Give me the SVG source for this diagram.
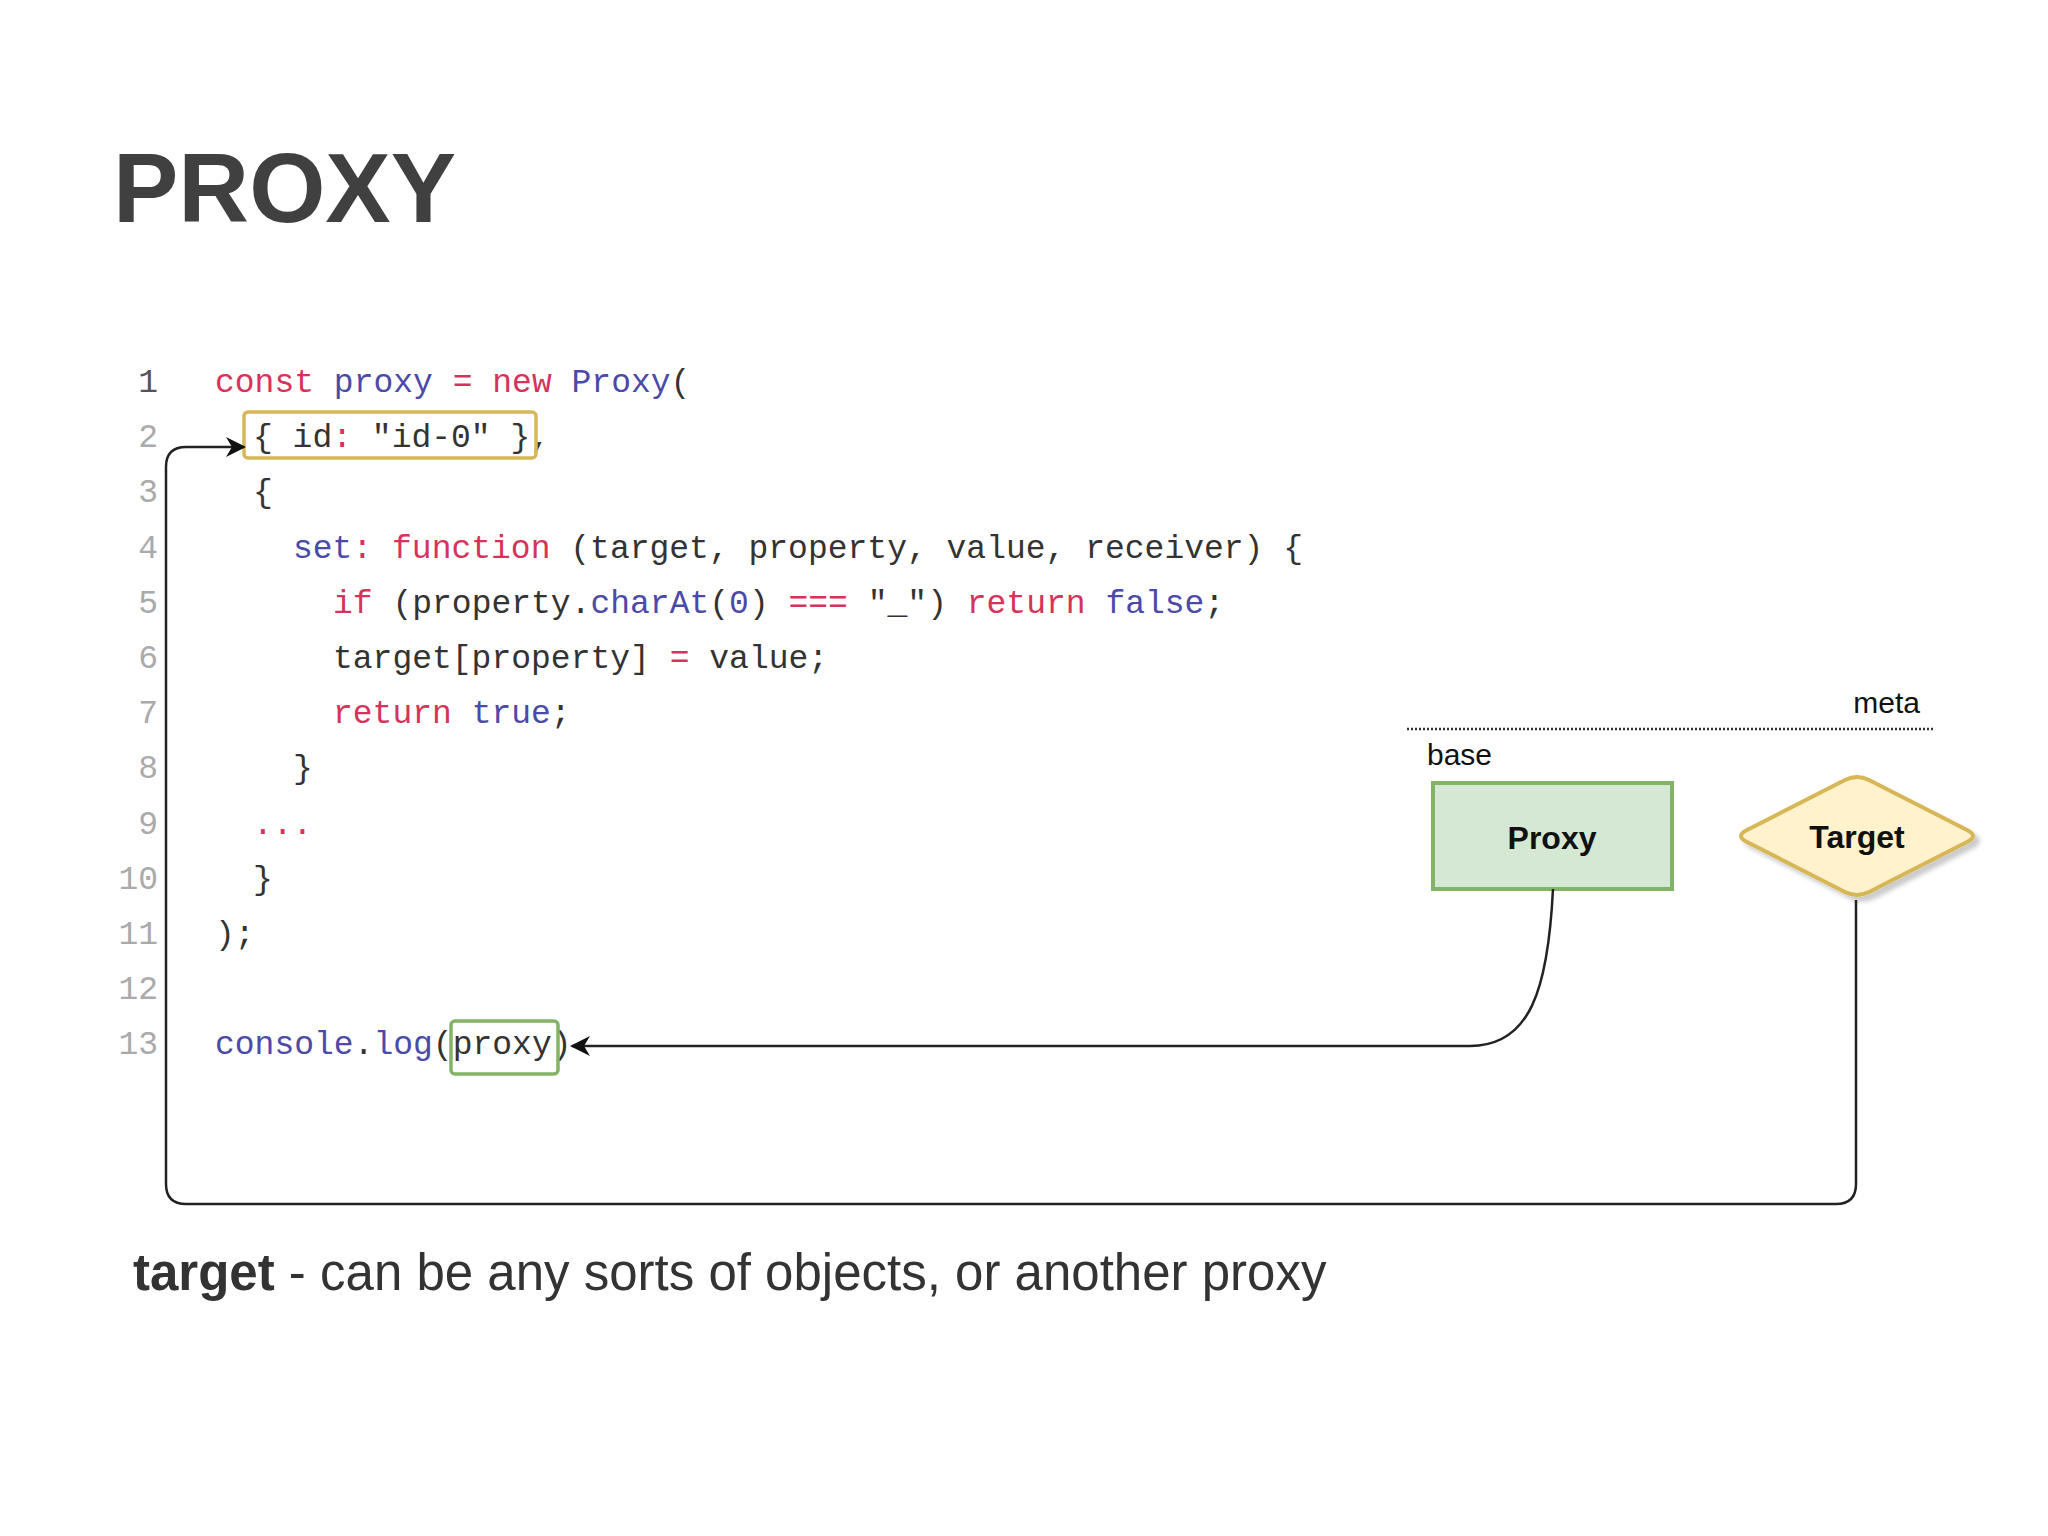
<svg xmlns="http://www.w3.org/2000/svg" width="2048" height="1536" viewBox="0 0 2048 1536">
<defs>
<style>
.code{font-family:"Liberation Mono","DejaVu Sans Mono",monospace;font-size:33px;fill:#333;white-space:pre}
.ln{font-family:"Liberation Mono",monospace;font-size:33px;fill:#aaa;text-anchor:end}
.k{fill:#d6335b}.b{fill:#4b4aa8}
.lbl{font-family:"Liberation Sans",Arial,sans-serif;font-size:30px;fill:#111}
.conn{fill:none;stroke:#222;stroke-width:2.5}
</style>
<marker id="arr2" viewBox="0 0 10 10" refX="9" refY="5" markerWidth="20" markerHeight="20" markerUnits="userSpaceOnUse" orient="auto"><path d="M0 0L10 5L0 10L3 5Z" fill="#111"/></marker>
<filter id="sh" x="-20%" y="-20%" width="150%" height="150%"><feDropShadow dx="5" dy="5" stdDeviation="2" flood-color="#000" flood-opacity="0.2"/></filter>
</defs>
<rect width="2048" height="1536" fill="#fff"/>
<text x="113" y="222" font-family="Liberation Sans,Arial,sans-serif" font-weight="bold" font-size="98" fill="#404040">PROXY</text>
<g id="code" xml:space="preserve">
<text class="ln" x="158" y="392" style="fill:#555">1</text>
<text class="ln" x="158" y="447">2</text>
<text class="ln" x="158" y="502">3</text>
<text class="ln" x="158" y="558">4</text>
<text class="ln" x="158" y="613">5</text>
<text class="ln" x="158" y="668">6</text>
<text class="ln" x="158" y="723">7</text>
<text class="ln" x="158" y="778">8</text>
<text class="ln" x="158" y="834">9</text>
<text class="ln" x="158" y="889">10</text>
<text class="ln" x="158" y="944">11</text>
<text class="ln" x="158" y="999">12</text>
<text class="ln" x="158" y="1054">13</text>
<text class="code" x="215" y="392"><tspan class="k">const</tspan> <tspan class="b">proxy</tspan> <tspan class="k">=</tspan> <tspan class="k">new</tspan> <tspan class="b">Proxy</tspan>(</text>
<text class="code" x="253" y="447">{ id<tspan class="k">:</tspan> "id-0" },</text>
<text class="code" x="253" y="502">{</text>
<text class="code" x="293" y="558"><tspan class="b">set</tspan><tspan class="k">:</tspan> <tspan class="k">function</tspan> (target, property, value, receiver) {</text>
<text class="code" x="333" y="613"><tspan class="k">if</tspan> (property.<tspan class="b">charAt</tspan>(<tspan class="b">0</tspan>) <tspan class="k">===</tspan> "_") <tspan class="k">return</tspan> <tspan class="b">false</tspan>;</text>
<text class="code" x="333" y="668">target[property] <tspan class="k">=</tspan> value;</text>
<text class="code" x="333" y="723"><tspan class="k">return</tspan> <tspan class="b">true</tspan>;</text>
<text class="code" x="293" y="778">}</text>
<text class="code" x="253" y="834"><tspan class="k">...</tspan></text>
<text class="code" x="253" y="889">}</text>
<text class="code" x="215" y="944">);</text>
<text class="code" x="215" y="1054"><tspan class="b">console</tspan>.<tspan class="b">log</tspan>(proxy)</text>
</g>
<g id="hl-target"><rect x="244" y="412" width="292" height="46" rx="4" fill="none" stroke="#d6b656" stroke-width="3.5"/></g>
<g id="hl-proxy"><rect x="451" y="1021" width="107" height="53" rx="4" fill="none" stroke="#82b366" stroke-width="3.5"/></g>
<g id="layers">
<line x1="1407" y1="729" x2="1933" y2="729" stroke="#333" stroke-width="2.5" stroke-dasharray="2 2"/>
<text class="lbl" x="1920" y="713" text-anchor="end">meta</text>
<text class="lbl" x="1427" y="765">base</text>
</g>
<g id="node-proxy">
<rect x="1433" y="783" width="239" height="106" fill="#d5e8d4" stroke="#82b366" stroke-width="4"/>
<text x="1552" y="849" text-anchor="middle" font-family="Liberation Sans,Arial,sans-serif" font-weight="bold" font-size="32" fill="#111">Proxy</text>
</g>
<g id="node-target">
<path d="M1845 780 Q1857 774 1869 780 L1967 830 Q1979 836 1967 842 L1869 892 Q1857 898 1845 892 L1747 842 Q1735 836 1747 830 Z" fill="#fff2cc" stroke="#d6b656" stroke-width="4" stroke-linejoin="round" filter="url(#sh)"/>
<text x="1857" y="848" text-anchor="middle" font-family="Liberation Sans,Arial,sans-serif" font-weight="bold" font-size="32" fill="#111">Target</text>
</g>
<g id="connectors">
<path class="conn" d="M1553 889 C1548 990 1530 1046 1470 1046 L572 1046" marker-end="url(#arr2)"/>
<path class="conn" d="M1856 900 L1856 1184 Q1856 1204 1836 1204 L186 1204 Q166 1204 166 1184 L166 467 Q166 447 186 447 L244 447" marker-end="url(#arr2)"/>
</g>
<text x="133" y="1290" font-family="Liberation Sans,Arial,sans-serif" font-size="51" fill="#333"><tspan font-weight="bold">target</tspan> - can be any sorts of objects, or another proxy</text>
</svg>
